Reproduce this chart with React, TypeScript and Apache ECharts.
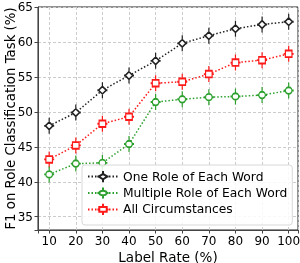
import React, { useEffect, useRef } from "react";
import * as echarts from "echarts";

const labelRates = [10, 20, 30, 40, 50, 60, 70, 80, 90, 100];
const oneRole = [48.0, 49.9, 53.1, 55.2, 57.3, 59.8, 60.9, 61.9, 62.5, 62.9];
const multipleRole = [41.05, 42.6, 42.7, 45.4, 51.4, 51.8, 52.1, 52.2, 52.4, 53.05];
const allCirc = [43.2, 45.2, 48.3, 49.3, 54.1, 54.3, 55.4, 57.05, 57.4, 58.3];
const seriesNames = ["One Role of Each Word", "Multiple Role of Each Word", "All Circumstances"];
const seriesColors = ["#222222", "#2ca02c", "#ff1a1a"];

const arms = "M5,0L5,4.5M5,11.5L5,16M0,8L1.5,8M8.5,8L10,8";
const diamondSym = "path://" + arms + "M5,4.2L8.8,8L5,11.8L1.2,8Z";
const circleSym = "path://" + arms + "M1.7,8A3.3,3.3,0,1,1,8.3,8A3.3,3.3,0,1,1,1.7,8Z";
const squareSym = "path://" + arms + "M1.7,4.7L8.3,4.7L8.3,11.3L1.7,11.3Z";
const symbols = [diamondSym, circleSym, squareSym];

export default function App() {
  const ref = useRef<HTMLDivElement>(null);
  useEffect(() => {
    if (!ref.current) return;
    const chart = echarts.init(ref.current, undefined, { renderer: "svg" });
    const datasets = [oneRole, multipleRole, allCirc];
    const font = "DejaVu Sans";
    chart.setOption({
      animation: false,
      textStyle: { fontFamily: font },
      grid: {
        left: 38,
        right: 2,
        top: 7,
        bottom: 33,
        show: true,
        borderColor: "#222",
        borderWidth: 1,
        backgroundColor: "transparent",
        containLabel: false,
        outerBoundsMode: "none",
      },
      legend: {
        orient: "vertical",
        left: 82,
        top: 165,
        itemWidth: 30,
        itemHeight: 14,
        itemGap: 3.2,
        padding: [5, 5, 9, 5],
        borderColor: "#d8d8d8",
        borderWidth: 1,
        borderRadius: 3,
        backgroundColor: "rgba(255,255,255,0.85)",
        textStyle: { fontFamily: font, fontSize: 12.3, color: "#000" },
        data: seriesNames,
      },
      xAxis: {
        type: "value",
        min: 5.8,
        max: 103.5,
        minInterval: 10,
        maxInterval: 10,
        name: "Label Rate (%)",
        nameLocation: "middle",
        nameGap: 19.5,
        nameMoveOverlap: false,
        nameTextStyle: { fontFamily: font, fontSize: 13.5, color: "#000" },
        axisLine: { show: true, lineStyle: { color: "#444", width: 1 } },
        axisTick: { show: true, length: 3.5, lineStyle: { color: "#444" } },
        axisLabel: {
          fontFamily: font,
          fontSize: 12,
          color: "#000",
          margin: 5,
          formatter: (v: number) => (Math.abs(v % 10) < 1e-6 ? String(v) : ""),
        },
        splitLine: { show: true, lineStyle: { color: "#cccccc", type: [3, 2], width: 1 } },
      },
      yAxis: {
        type: "value",
        min: 33.1,
        max: 65,
        minInterval: 5,
        maxInterval: 5,
        name: "F1 on Role Classification Task (%)",
        nameLocation: "middle",
        nameGap: 21,
        nameMoveOverlap: false,
        nameTextStyle: { fontFamily: font, fontSize: 13.3, color: "#000" },
        axisLine: { show: true, lineStyle: { color: "#444", width: 1 } },
        axisTick: { show: true, length: 3.5, lineStyle: { color: "#444" } },
        axisLabel: {
          fontFamily: font,
          fontSize: 12,
          color: "#000",
          margin: 5,
          formatter: (v: number) => (Math.abs(v % 5) < 1e-6 ? String(v) : ""),
        },
        splitLine: { show: true, lineStyle: { color: "#cccccc", type: [3, 2], width: 1 } },
      },
      series: seriesNames.map((name, i) => ({
        name,
        type: "line",
        data: labelRates.map((x, j) => [x, datasets[i][j]]),
        symbol: symbols[i],
        symbolSize: [10, 16],
        lineStyle: { color: seriesColors[i], width: 1.5, type: [1.5, 2] },
        itemStyle: { color: "#ffffff", borderColor: seriesColors[i], borderWidth: 1.5 },
        z: 3 - i,
      })),
    });
    return () => chart.dispose();
  }, []);
  return (
    <div
      ref={ref}
      style={{ position: "fixed", left: 0, top: 0, width: 300, height: 263 }}
    />
  );
}
